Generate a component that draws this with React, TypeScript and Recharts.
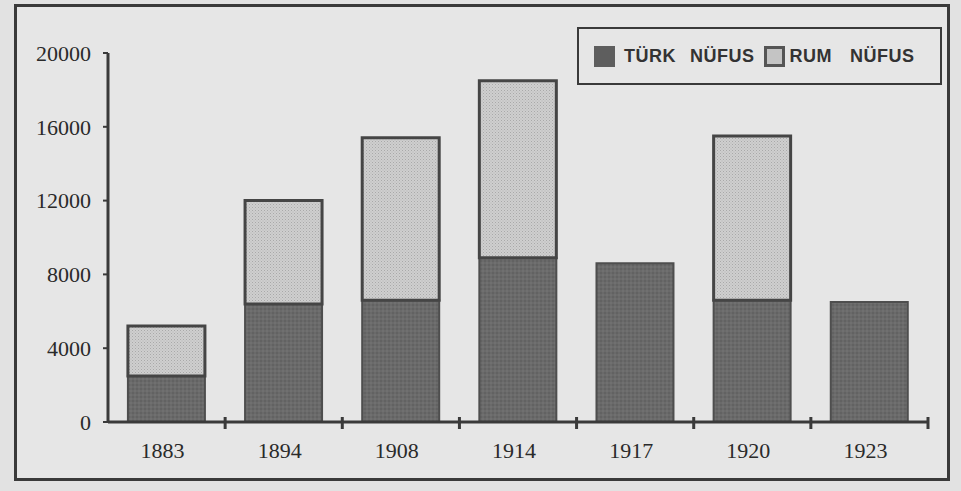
import { BarChart, Bar, XAxis, YAxis } from "recharts";

const years = ["1883", "1894", "1908", "1914", "1917", "1920", "1923"];
const turkNufus = [2500, 6400, 6600, 8900, 8600, 6600, 6500];
const rumNufus = [2700, 5600, 8800, 9600, 0, 8900, 0];
const yTicks = [0, 4000, 8000, 12000, 16000, 20000];

const data = years.map((y, i) => ({ year: y, turk: turkNufus[i], rum: rumNufus[i] }));

const ink = "#3a3a3a";
const serif = "'Liberation Serif', 'DejaVu Serif', serif";

function YearTick(props: any) {
  const { x, y, payload } = props;
  const off = payload && payload.offset ? payload.offset : 58.6;
  return (
    <g>
      <line x1={x + off} x2={x + off} y1={y - 5} y2={y + 7} stroke={ink} strokeWidth={3} />
      <text x={x - 4} y={y + 36} textAnchor="middle" fill="#2a2a2a" fontFamily={serif} fontSize={22}>
        {payload.value}
      </text>
    </g>
  );
}

function LegendBox() {
  const txt: React.CSSProperties = {
    fontFamily: "'Liberation Sans', Arial, sans-serif",
    fontWeight: 700,
    fontSize: 18,
    color: "#333",
    letterSpacing: 0.5,
  };
  const sw: React.CSSProperties = { width: 21, height: 21, boxSizing: "border-box" };
  return (
    <div
      style={{
        position: "absolute",
        left: 577,
        top: 27,
        width: 365,
        height: 58,
        border: `2px solid ${ink}`,
        boxSizing: "border-box",
        display: "flex",
        alignItems: "center",
        paddingLeft: 15,
      }}
    >
      <div style={{ ...sw, background: "#5e5e5e" }} />
      <span style={{ ...txt, marginLeft: 9 }}>TÜRK</span>
      <span style={{ ...txt, marginLeft: 14 }}>NÜFUS</span>
      <div style={{ ...sw, marginLeft: 9, background: "#c4c4c4", border: "3px solid #555" }} />
      <span style={{ ...txt, marginLeft: 5 }}>RUM</span>
      <span style={{ ...txt, marginLeft: 18 }}>NÜFUS</span>
    </div>
  );
}

export default function App() {
  return (
    <div
      style={{
        position: "absolute",
        left: 0,
        top: 0,
        width: 961,
        height: 491,
        background: "#e2e2e2",
        overflow: "hidden",
      }}
    >
      <div
        style={{
          position: "absolute",
          left: 14,
          top: 4,
          width: 936,
          height: 477,
          border: `3px solid ${ink}`,
          boxSizing: "border-box",
          background: "#e6e6e6",
        }}
      />
      <div style={{ position: "absolute", left: 0, top: 0 }}>
        <BarChart
          width={961}
          height={491}
          data={data}
          margin={{ top: 53, right: 33, left: 48, bottom: 39 }}
          barCategoryGap="17%"
        >
          <defs>
            <pattern id="rumDots" width="3" height="3" patternUnits="userSpaceOnUse">
              <rect width="3" height="3" fill="#cfcfcf" />
              <rect width="1" height="1" fill="#a9a9a9" />
              <rect x="1.5" y="1.5" width="1" height="1" fill="#b5b5b5" />
            </pattern>
            <pattern id="turkTex" width="4" height="4" patternUnits="userSpaceOnUse">
              <rect width="4" height="4" fill="#6a6a6a" />
              <rect width="2" height="2" fill="#626262" />
              <rect x="2" y="2" width="2" height="2" fill="#707070" />
            </pattern>
          </defs>
          <XAxis
            dataKey="year"
            tick={<YearTick />}
            tickLine={false}
            tickSize={0}
            tickMargin={0}
            axisLine={{ stroke: ink, strokeWidth: 3 }}
            height={30}
            interval={0}
          />
          <YAxis
            domain={[0, 20000]}
            ticks={yTicks}
            width={60}
            axisLine={{ stroke: ink, strokeWidth: 3 }}
            tickLine={{ stroke: ink, strokeWidth: 2 }}
            tickSize={5}
            tickMargin={12}
            tick={{ fill: "#2a2a2a", fontFamily: serif, fontSize: 22 }}
            allowDataOverflow
          />
          <Bar
            dataKey="turk"
            stackId="a"
            fill="url(#turkTex)"
            stroke="#4e4e4e"
            strokeWidth={2}
            isAnimationActive={false}
          />
          <Bar
            dataKey="rum"
            stackId="a"
            fill="url(#rumDots)"
            stroke="#454545"
            strokeWidth={3}
            isAnimationActive={false}
          />
        </BarChart>
      </div>
      <LegendBox />
    </div>
  );
}
